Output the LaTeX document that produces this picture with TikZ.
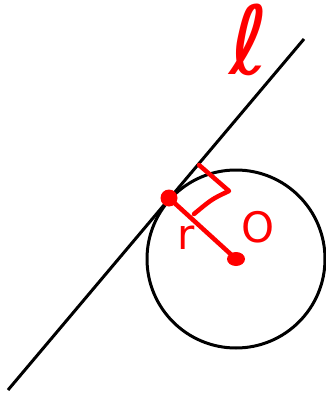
\documentclass[tikz,border=0pt]{standalone}
\usepackage{fontspec}
\newfontfamily\handfont{DejaVu Sans}
\begin{document}
\begin{tikzpicture}[x=1pt,y=-1pt,
  blackline/.style={line width=3pt,black},
  redline/.style={line width=4.5pt,red,line cap=round,line join=round},
  lbl/.style={text=red,inner sep=0pt,font=\handfont}]
\useasboundingbox (0,0) rectangle (326,393);
\coordinate (A) at (8,390);
\coordinate (B) at (304,39);
\coordinate (T) at (169,198);
\coordinate (O) at (236,259);
\draw[blackline] (A) -- (B);
\draw[blackline] (O) circle[radius=89];
\draw[redline] (T) -- (O);
\coordinate (R1) at (199,165);
\coordinate (R2) at (229,191);
\coordinate (R3) at (194,214);
\draw[redline] (R1) -- (R2) .. controls (212,199) .. (R3);
\fill[red] (T) circle[radius=8.5];
\fill[red] (O) ellipse[x radius=9,y radius=7];
\node[lbl,font=\handfont\fontsize{95}{95}\selectfont] (ell) at (249,40) {ℓ};
\node[lbl,font=\handfont\fontsize{42}{42}\selectfont] (rlab) at (186,238) {r};
\node[lbl,font=\handfont\fontsize{42}{42}\selectfont] (olab) at (258,227) {O};
\end{tikzpicture}
\end{document}
